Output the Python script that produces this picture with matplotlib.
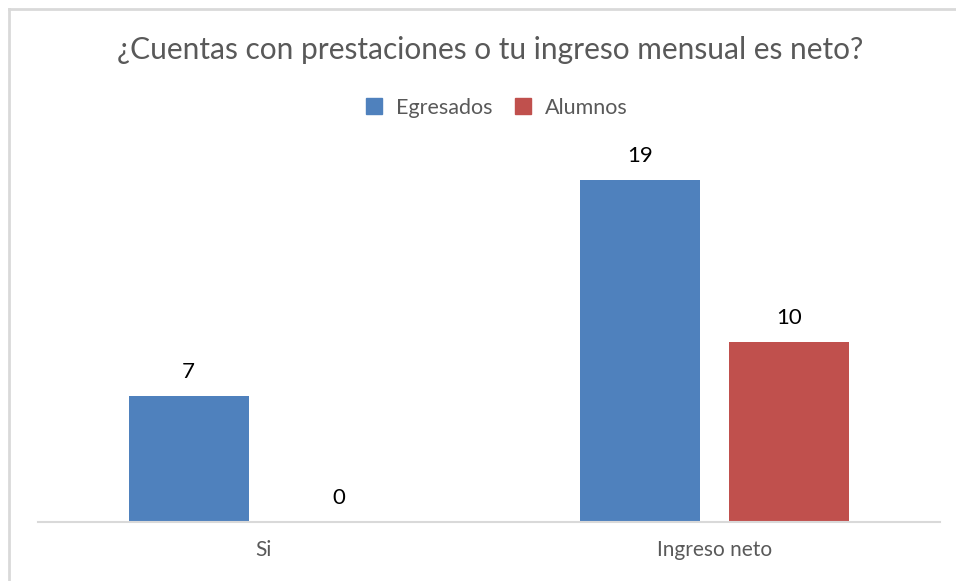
import matplotlib.pyplot as plt
from matplotlib.lines import Line2D
import numpy as np

categories = ["Si", "Ingreso neto"]
egresados = [7, 19]
alumnos = [0, 10]
series_names = ["Egresados", "Alumnos"]
colors = ["#4F81BD", "#C0504D"]


def main():
    plt.rcParams["font.family"] = ["Lato", "DejaVu Sans"]
    fig = plt.figure(figsize=(9.56, 5.81), dpi=100)
    ax = fig.add_axes([38 / 956, 1 - 522 / 581, 902 / 956, 378 / 581])

    x = np.arange(len(categories))
    w = 0.266
    off = 0.166
    for vals, dx, col, name in [(egresados, -off, colors[0], series_names[0]),
                                (alumnos, off, colors[1], series_names[1])]:
        bars = ax.bar(x + dx, vals, w, color=col, label=name)
        for b, v in zip(bars, vals):
            ax.annotate(str(v), (b.get_x() + b.get_width() / 2, v),
                        xytext=(0, 14), textcoords="offset pixels",
                        ha="center", va="bottom", fontsize=16, color="#000000")

    ax.set_xlim(-0.5, 1.5)
    ax.set_ylim(0, 21)
    ax.set_yticks([])
    ax.set_xticks(x)
    ax.set_xticklabels(categories, fontsize=15, color="#595959")
    ax.tick_params(axis="x", length=0, pad=13)
    for s in ["top", "right", "left"]:
        ax.spines[s].set_visible(False)
    ax.spines["bottom"].set_color("#D9D9D9")
    ax.spines["bottom"].set_linewidth(1.5)

    fig.text(490 / 956, 1 - 50 / 581, "¿Cuentas con prestaciones o tu ingreso mensual es neto?",
             ha="center", va="center", fontsize=21.5, color="#595959")

    handles = [Line2D([], [], marker="s", linestyle="none", markersize=11,
                      color=c) for c in colors]
    fig.legend(handles, series_names, loc="center", bbox_to_anchor=(490 / 956, 1 - 108 / 581),
               ncol=2, frameon=False, fontsize=15.5, labelcolor="#595959",
               handletextpad=0.0, columnspacing=0.45)

    # partial frame (top and left edges)
    fig.add_artist(Line2D([8.5 / 956, 8.5 / 956], [0, 1 - 8.5 / 581], color="#D9D9D9", lw=2,
                          transform=fig.transFigure))
    fig.add_artist(Line2D([8.5 / 956, 1], [1 - 8.5 / 581, 1 - 8.5 / 581], color="#D9D9D9", lw=2,
                          transform=fig.transFigure))

    fig.savefig("out.png", dpi=100)


if __name__ == "__main__":
    main()
